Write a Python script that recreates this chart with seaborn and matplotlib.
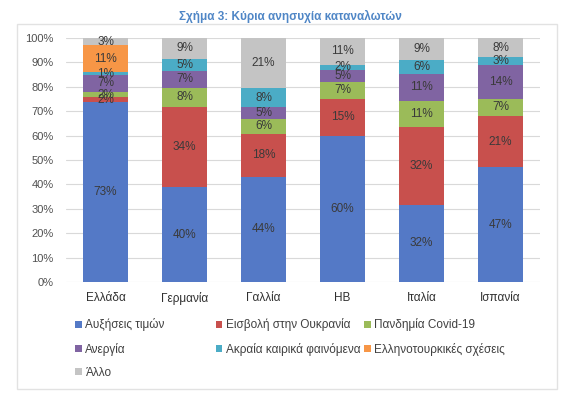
import numpy as np
import pandas as pd
import matplotlib
matplotlib.use('Agg')
import matplotlib.pyplot as plt
from matplotlib.patches import Patch, Rectangle
import seaborn as sns

# Data (percent answers per country)
countries = ['Ελλάδα', 'Γερμανία', 'Γαλλία', 'ΗΒ', 'Ιταλία', 'Ισπανία']
categories = ['Αυξήσεις τιμών', 'Εισβολή στην Ουκρανία', 'Πανδημία Covid-19',
              'Ανεργία', 'Ακραία καιρικά φαινόμενα', 'Ελληνοτουρκικές σχέσεις', 'Άλλο']
price_rises = [73, 40, 44, 60, 32, 47]
ukraine = [2, 34, 18, 15, 32, 21]
covid = [2, 8, 6, 7, 11, 7]
unemployment = [7, 7, 5, 5, 11, 14]
weather = [1, 5, 8, 2, 6, 3]
greek_turkish = [11, 0, 0, 0, 0, 0]
other = [3, 9, 21, 11, 9, 8]
colors = ['#5479C6', '#C8504D', '#9BBB59', '#8064A2', '#4BACC6', '#F79646', '#C4C4C4']

series = [price_rises, ukraine, covid, unemployment, weather, greek_turkish, other]
vals = np.array(series, dtype=float)
# 100% stacked columns, labels show the raw values
shares = vals / vals.sum(axis=0) * 100
tops = shares.cumsum(axis=0)

sns.set_style('white')
plt.rcParams['font.family'] = ['Liberation Sans', 'DejaVu Sans']

fig = plt.figure(figsize=(5.8, 3.94), dpi=100)
ax = fig.add_axes([0.114, 0.284, 0.817, 0.62])

# draw the cumulative bars from the top layer down so they overlap into stacks
for i in range(len(categories) - 1, -1, -1):
    df = pd.DataFrame({'country': countries, 'top': tops[i]})
    sns.barplot(data=df, x='country', y='top', color=colors[i], width=0.56,
                saturation=1, linewidth=0, ax=ax, zorder=2)

for i in range(len(categories)):
    for j in range(len(countries)):
        if vals[i, j] <= 0:
            continue
        mid = tops[i, j] - shares[i, j] / 2
        ax.text(j, mid, f'{int(vals[i, j])}%', ha='center', va='center',
                fontsize=8.5, color='#3A3A3A', zorder=3)

ax.set_ylim(0, 100)
ax.set_xlim(-0.5, 5.5)
ax.set_yticks(range(0, 101, 10))
ax.set_yticklabels([f'{t}%' for t in range(0, 101, 10)])
ax.yaxis.grid(True, color='#D9D9D9', linewidth=0.8, zorder=0)
ax.set_axisbelow(True)
for s in ax.spines.values():
    s.set_visible(False)
ax.tick_params(axis='y', length=0, pad=9, labelsize=8, labelcolor='#505050')
ax.tick_params(axis='x', length=0, pad=7, labelsize=8.5, labelcolor='#303030')
ax.set_xlabel('')
ax.set_ylabel('')

fig.text(0.50, 0.957, 'Σχήμα 3: Κύρια ανησυχία καταναλωτών', ha='center', va='center',
         fontsize=8.5, fontweight='bold', color='#4F86C6')

# frame around chart area
fig.add_artist(Rectangle((17 / 580, 1 - 389 / 394), 540 / 580, 365 / 394,
                         transform=fig.transFigure, fill=False,
                         edgecolor='#E2E2E2', linewidth=1))

# legend laid out in three columns, row by row
handles = [Patch(facecolor=c, edgecolor='none') for c in colors]
columns = [([0, 3, 6], 0.130), ([1, 4], 0.372), ([2, 5], 0.628)]
for idx, x in columns:
    leg = fig.legend([handles[k] for k in idx], [categories[k] for k in idx],
                     loc='upper left', bbox_to_anchor=(x, 0.192), frameon=False,
                     fontsize=8.5, handlelength=0.55, handleheight=0.55,
                     handletextpad=0.3, labelspacing=0.95, borderaxespad=0,
                     borderpad=0)
    for t in leg.get_texts():
        t.set_color('#404040')

fig.savefig('out.png', dpi=100)
